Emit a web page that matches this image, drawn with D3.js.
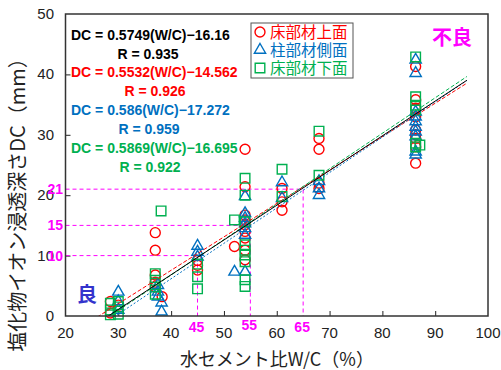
<!DOCTYPE html>
<html>
<head>
<meta charset="utf-8">
<script src="https://cdn.jsdelivr.net/npm/d3@7"></script>
<style>
  body { margin: 0; background: #fff; }
  text { font-family: "Liberation Sans", Arial, sans-serif; }
  .jp { font-family: "Noto Sans CJK JP", sans-serif; }
</style>
</head>
<body>
<svg width="501" height="370"></svg>
<script>
"use strict";

// 床部材上面 (red circles) : [W/C, DC]
var floorTop = [
    [28.5, 2.4], [28.5, 0.5], [30, 1.8],
    [37, 13.8], [37, 10.9], [37, 6.8], [37, 5.6], [37, 4.8], [38.3, 3.2],
    [45, 9.2], [45, 8.4], [45, 7.6],
    [52, 11.5],
    [54, 27.6], [54, 21.4], [54, 16.7], [54, 15.9], [54, 15.1], [54, 14.0], [54, 12.9], [54, 10.9], [54, 9.3],
    [61, 21.1], [61, 18.9], [61, 17.5],
    [68, 29.4], [68, 27.6], [68, 22.0], [68, 21.1],
    [86.3, 41.3], [86.3, 35.8], [86.3, 34.4], [86.3, 33.0], [86.3, 30.8], [86.3, 30.0], [86.3, 29.4], [86.3, 28.0], [86.3, 25.3]
];

// 柱部材側面 (blue triangles)
var columnSide = [
    [30, 4.0], [30, 2.4], [30, 1.0],
    [37.5, 5.1], [37.5, 4.0], [37.5, 3.2], [38.2, 2.2], [38.2, 0.7],
    [45, 11.6], [45, 10.6], [45, 9.8],
    [52, 7.3],
    [54, 19.8], [54, 17.0], [54, 16.2], [54, 15.3], [54, 14.5], [54, 13.4], [54, 7.3],
    [61, 22.1], [61, 19.5],
    [68, 22.3], [68, 21.1], [68, 20.0],
    [86.3, 42.4], [86.3, 40.2], [86.3, 33.8], [86.3, 33.0], [86.3, 32.2], [86.3, 31.3], [86.3, 30.5], [86.3, 29.7], [86.3, 27.2], [86.3, 26.7]
];

// 床部材下面 (green squares)
var floorBottom = [
    [28.5, 2.1], [28.5, 1.0], [28.5, 0.2], [30, 2.4], [30, 1.5], [30, 0.3],
    [37, 7.0], [37, 5.9], [37, 4.8], [37, 3.6], [38.1, 17.4],
    [45, 8.6], [45, 6.5], [45, 4.5],
    [52, 15.9],
    [54, 22.8], [54, 20.0], [54, 15.6], [54, 11.8], [54, 10.9], [54, 10.1], [54, 9.0], [54, 6.0], [54, 4.9],
    [61, 24.3], [61, 19.8],
    [68, 30.6], [68, 23.3],
    [86.3, 42.9], [86.3, 36.3], [86.3, 34.9], [86.3, 34.1], [86.3, 28.6], [86.3, 28.0], [87.1, 28.3]
];

var seriesNames = ["床部材上面", "柱部材側面", "床部材下面"];
var seriesColors = ["#ff0000", "#0070c0", "#00b050"];

// regression lines: slope, intercept
var fits = [
    { a: 0.5749, b: -16.16, r: 0.935, color: "#000000" },
    { a: 0.5532, b: -14.562, r: 0.926, color: "#ff0000" },
    { a: 0.586, b: -17.272, r: 0.959, color: "#0070c0" },
    { a: 0.5869, b: -16.695, r: 0.922, color: "#00b050" }
];
var eqLabels = ["DC = 0.5749(W/C)−16.16", "DC = 0.5532(W/C)−14.562", "DC = 0.586(W/C)−17.272", "DC = 0.5869(W/C)−16.695"];
var rLabels = ["R = 0.935", "R = 0.926", "R = 0.959", "R = 0.922"];

// guide lines: [W/C, DC]
var guides = [[45, 10], [55, 15], [65, 21]];

var xTicks = [20, 30, 40, 50, 60, 70, 80, 90, 100];
var yTicks = [0, 10, 20, 30, 40, 50];

var svg = d3.select("svg");
var x = d3.scaleLinear().domain([20, 100]).range([65.5, 488]);
var y = d3.scaleLinear().domain([0, 50]).range([316, 14]);

svg.append("defs").append("clipPath").attr("id", "plot")
    .append("rect").attr("x", 65.5).attr("y", 14).attr("width", 422.5).attr("height", 302);

// ticks (inward)
svg.append("g").attr("transform", "translate(0,316)")
    .call(d3.axisTop(x).tickValues(xTicks.slice(1, -1)).tickSize(5).tickFormat(""))
    .call(function (g) { g.select(".domain").remove(); g.selectAll("line").attr("stroke", "#222"); });
svg.append("g").attr("transform", "translate(65.5,0)")
    .call(d3.axisRight(y).tickValues(yTicks.slice(1, -1)).tickSize(5).tickFormat(""))
    .call(function (g) { g.select(".domain").remove(); g.selectAll("line").attr("stroke", "#222"); });

// tick labels
svg.append("g").selectAll("text").data(xTicks).enter().append("text")
    .attr("x", function (d) { return x(d); })
    .attr("y", 338)
    .attr("text-anchor", "middle")
    .attr("font-size", 15)
    .attr("fill", "#222")
    .text(function (d) { return d; });
svg.append("g").selectAll("text").data(yTicks).enter().append("text")
    .attr("x", 54)
    .attr("y", function (d) { return y(d) + 5; })
    .attr("text-anchor", "end")
    .attr("font-size", 15)
    .attr("fill", "#222")
    .text(function (d) { return d; });

// magenta guide lines
var gg = svg.append("g").attr("stroke", "#ff00ff").attr("stroke-width", 1).attr("stroke-dasharray", "4,3").attr("fill", "none");
guides.forEach(function (g) {
    gg.append("path").attr("d", d3.line()([[x(20), y(g[1])], [x(g[0]), y(g[1])], [x(g[0]), y(0)]]));
});
svg.append("g").selectAll("text.gy").data(guides).enter().append("text")
    .attr("x", 63)
    .attr("y", function (d) { return y(d[1]) + 5; })
    .attr("text-anchor", "end")
    .attr("font-size", 14)
    .attr("font-weight", "bold")
    .attr("fill", "#ff00ff")
    .text(function (d) { return d[1]; });
svg.append("g").selectAll("text.gx").data(guides).enter().append("text")
    .attr("x", function (d) { return x(d[0]) - 1; })
    .attr("y", function (d, i) { return i === 1 ? 330 : 332; })
    .attr("text-anchor", "middle")
    .attr("font-size", 14)
    .attr("font-weight", "bold")
    .attr("fill", "#ff00ff")
    .text(function (d) { return d[0]; });

// markers
function marker(type, size) { return d3.symbol().type(type).size(size)(); }
var series = [
    { data: floorTop, path: marker(d3.symbolCircle, 78), dy: 0 },
    { data: columnSide, path: marker(d3.symbolTriangle, 55), dy: 0 },
    { data: floorBottom, path: marker(d3.symbolSquare, 92), dy: 0 }
];
series.forEach(function (s, i) {
    svg.append("g").selectAll("path").data(s.data).enter().append("path")
        .attr("d", s.path)
        .attr("transform", function (d) { return "translate(" + x(d[0]) + "," + y(d[1]) + ")"; })
        .attr("fill", "none")
        .attr("stroke", seriesColors[i])
        .attr("stroke-width", 1.4);
});

// regression lines
var lineG = svg.append("g").attr("clip-path", "url(#plot)");
var dashes = [null, "4,2", "2,2", "4,2"];
[1, 2, 3, 0].forEach(function (i) {
    var f = fits[i];
    lineG.append("path")
        .attr("d", d3.line()([[x(26), y(f.a * 26 + f.b)], [x(96), y(f.a * 96 + f.b)]]))
        .attr("stroke", f.color)
        .attr("stroke-width", 1)
        .attr("stroke-dasharray", dashes[i])
        .attr("fill", "none");
});

// frame
svg.append("rect").attr("x", 65.5).attr("y", 14).attr("width", 422.5).attr("height", 302)
    .attr("fill", "none").attr("stroke", "#333").attr("stroke-width", 1.5);

// equations
var eqY = [40, 77, 115, 153];
var rX = [148, 155, 149, 150];
fits.forEach(function (f, i) {
    svg.append("text").attr("x", 71).attr("y", eqY[i])
        .attr("font-size", 14).attr("font-weight", "bold").attr("fill", f.color)
        .text(eqLabels[i]);
    svg.append("text").attr("x", rX[i]).attr("y", eqY[i] + 18.5).attr("text-anchor", "middle")
        .attr("font-size", 14).attr("font-weight", "bold").attr("fill", f.color)
        .text(rLabels[i]);
});

// legend
var leg = svg.append("g");
leg.append("rect").attr("x", 251).attr("y", 23).attr("width", 102).attr("height", 55)
    .attr("fill", "#fff").attr("stroke", "#555").attr("stroke-width", 1);
series.forEach(function (s, i) {
    var ly = 32 + i * 18;
    leg.append("path").attr("d", s.path).attr("transform", "translate(260," + ly + ")")
        .attr("fill", "none").attr("stroke", seriesColors[i]).attr("stroke-width", 1.4);
    leg.append("text").attr("class", "jp").attr("x", 270).attr("y", ly + 5.5)
        .attr("font-size", 15.5).attr("fill", seriesColors[i])
        .text(seriesNames[i]);
});

// 良 / 不良
svg.append("text").attr("class", "jp").attr("x", 452).attr("y", 45).attr("text-anchor", "middle")
    .attr("font-size", 20).attr("font-weight", "bold").attr("fill", "#ff00ff").text("不良");
svg.append("text").attr("class", "jp").attr("x", 87).attr("y", 302).attr("text-anchor", "middle")
    .attr("font-size", 20).attr("font-weight", "bold").attr("fill", "#3333cc").text("良");

// axis titles
svg.append("text").attr("class", "jp").attr("x", 277).attr("y", 366).attr("text-anchor", "middle")
    .attr("font-size", 18).attr("fill", "#222").text("水セメント比W/C（%）");
svg.append("text").attr("class", "jp")
    .attr("transform", "translate(25,200) rotate(-90)")
    .attr("text-anchor", "middle")
    .attr("font-size", 20).attr("fill", "#222").text("塩化物イオン浸透深さDC（mm）");
</script>
</body>
</html>
